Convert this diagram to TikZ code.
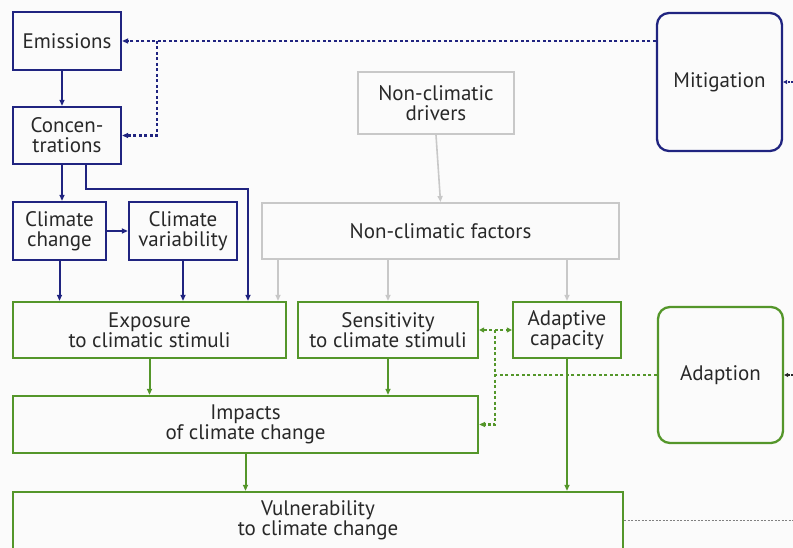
\documentclass[tikz,border=0pt]{standalone}
\usepackage{fontspec}
\setmainfont{PT Sans}
\usetikzlibrary{arrows.meta,calc}
\definecolor{navy}{RGB}{32,36,128}
\definecolor{grn}{RGB}{84,150,42}
\definecolor{lgray}{RGB}{200,200,200}
\definecolor{txt}{RGB}{40,40,40}
\definecolor{bg}{RGB}{251,251,251}
\tikzset{
  box/.style={draw, line width=2.3pt, inner sep=0pt, align=center, text=txt,
    font=\fontsize{21}{20}\selectfont},
  bbox/.style={box, draw=navy},
  gbox/.style={box, draw=grn},
  ybox/.style={box, draw=lgray, line width=2pt},
  tipb/.style={-{Triangle[length=6pt,width=5pt]}},
  barrow/.style={tipb, draw=navy, line width=2pt},
  garrow/.style={tipb, draw=grn, line width=2pt},
  yarrow/.style={tipb, draw=lgray, line width=1.6pt},
  bdot/.style={draw=navy, line width=2.2pt, dash pattern=on 3pt off 2.5pt},
  gdot/.style={draw=grn, line width=2.2pt, dash pattern=on 3pt off 2.5pt},
  kdot/.style={draw=gray, line width=1.2pt, dash pattern=on 2pt off 1.5pt},
}
\begin{document}
\begin{tikzpicture}[x=1pt,y=-1pt]
\useasboundingbox (0,0) rectangle (793,548);
\clip (0,0) rectangle (793,548);
\fill[bg] (0,0) rectangle (793,548);
% nodes
\node[bbox, minimum width=108pt, minimum height=58pt] (emis) at (67,41) {Emissions};
\node[bbox, minimum width=108pt, minimum height=57pt] (conc) at (67,135.5) {Concen-\\trations};
\node[bbox, minimum width=93pt, minimum height=58pt] (cc) at (59.5,231) {Climate\\change};
\node[bbox, minimum width=108pt, minimum height=58pt] (cv) at (183,231) {Climate\\variability};
\node[ybox, minimum width=156pt, minimum height=62pt] (ncd) at (436,103) {Non-climatic\\drivers};
\node[ybox, minimum width=357pt, minimum height=56pt] (ncf) at (440.5,231) {Non-climatic factors};
\node[bbox, rounded corners=12pt, minimum width=125pt, minimum height=138pt] (mit) at (719.5,82) {Mitigation};
\node[gbox, minimum width=273pt, minimum height=56pt] (exp) at (149.5,330) {Exposure\\to climatic stimuli};
\node[gbox, minimum width=180pt, minimum height=56pt] (sens) at (388,330) {Sensitivity\\to climate stimuli};
\node[gbox, minimum width=108pt, minimum height=56pt] (adc) at (567,330) {Adaptive\\capacity};
\node[gbox, rounded corners=12pt, minimum width=125pt, minimum height=136pt] (adapt) at (720.5,375) {Adaption};
\node[gbox, minimum width=465pt, minimum height=57pt] (imp) at (245.5,424.5) {Impacts\\of climate change};
\node[gbox, minimum width=610pt, minimum height=57pt] (vul) at (318,520.5) {Vulnerability\\to climate change};
% coordinates
\coordinate (k1) at (248,189);
\coordinate (j1) at (157,41);
\coordinate (g1) at (495,330);
\coordinate (mr) at (793,82);
\coordinate (ar) at (793,375);
\coordinate (vr) at (793,520.5);
% blue connectors
\draw[barrow] ([xshift=-5pt]emis.south) -- ([xshift=-5pt]conc.north);
\draw[barrow] ([xshift=-5pt]conc.south) -- ([xshift=-5pt]conc.south |- cc.north);
\draw[barrow] ([xshift=19pt]conc.south) |- (k1) -- (k1 |- exp.north);
\draw[barrow] (cc.east) -- (cv.west);
\draw[barrow] (cc.south) -- (cc.south |- exp.north);
\draw[barrow] (cv.south) -- (cv.south |- exp.north);
% gray connectors
\draw[yarrow] (ncd.south) -- (ncf.north);
\draw[yarrow] ([xshift=-162.5pt]ncf.south) -- ([xshift=-162.5pt]ncf.south |- exp.north);
\draw[yarrow] ([xshift=-52.5pt]ncf.south) -- ([xshift=-52.5pt]ncf.south |- sens.north);
\draw[yarrow] ([xshift=126.5pt]ncf.south) -- ([xshift=126.5pt]ncf.south |- adc.north);
% green connectors
\draw[garrow] (exp.south) -- (exp.south |- imp.north);
\draw[garrow] (sens.south) -- (sens.south |- imp.north);
\draw[garrow] (imp.south) -- (imp.south |- vul.north);
\draw[garrow] (adc.south) -- (adc.south |- vul.north);
% dotted blue
\draw[bdot, tipb] (emis.east -| mit.west) -- (emis.east);
\draw[bdot, tipb] (j1) |- (conc.east);
% dotted green
\draw[gdot, {Triangle[length=5pt,width=5pt]}-{Triangle[length=5pt,width=5pt]}] (sens.east) -- (adc.west);
\draw[gdot] (adapt.west) -- (adapt.west -| g1);
\draw[gdot, tipb] (g1) |- (imp.east);
% dotted from right edge
\draw[kdot, draw=navy, -{Triangle[length=4pt,width=4pt]}] (mr) -- (mit.east);
\draw[kdot, draw=txt, -{Triangle[length=4pt,width=4pt]}] (ar) -- (adapt.east);
\draw[kdot] (vul.east) -- (vr);
\end{tikzpicture}
\end{document}
